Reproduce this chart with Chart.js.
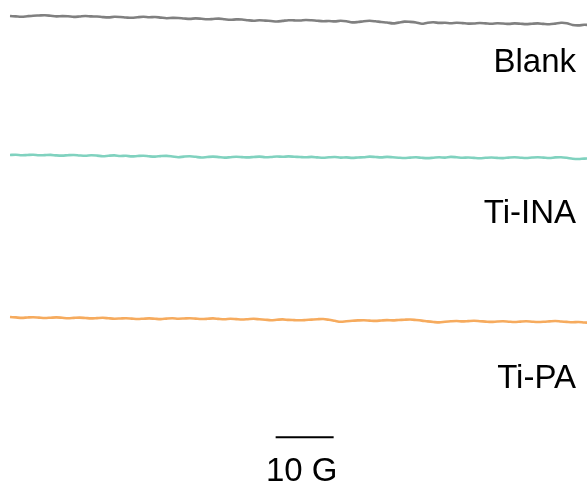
<!DOCTYPE html>
<html>
<head>
<meta charset="utf-8">
<script src="https://cdn.jsdelivr.net/npm/chart.js@4"></script>
<style>
  html, body { margin: 0; padding: 0; background: #fff; }
</style>
</head>
<body>
<canvas id="myChart" width="587" height="485"></canvas>
<script>
// magnetic field offset (G), one point per gauss
var field = [];
for (var g = 0; g <= 100; g++) field.push(g);

// signal (arbitrary units, up = positive)
var blank = [0, -0.4, -0.8, -0.2, 0.3, 0.5, 0.7, 0.2, -0.4, -0.1, -0.3,
  -0.9, -0.5, 0, -0.4, -0.5, -1.1, -1.4, -0.8, -1.0, -1.5,
  -1.8, -1.2, -0.8, -1.3, -1.0, -1.6, -2.2, -1.9, -2.0, -2.5,
  -2.9, -2.4, -2.8, -3.3, -3.0, -2.6, -3.2, -3.8, -3.4, -3.5,
  -4.2, -4.8, -4.3, -4.6, -5.0, -5.5, -4.9, -4.2, -4.4, -4.5,
  -4.0, -4.3, -4.8, -5.2, -5.0, -5.4, -4.8, -5.3, -6.4, -6.0,
  -5.2, -4.8, -5.3, -6.0, -6.5, -7.4, -6.6, -5.6, -5.9, -6.5,
  -7.8, -6.7, -6.3, -6.9, -6.8, -7.3, -6.8, -7.1, -7.6, -7.5,
  -7.0, -7.4, -7.8, -7.3, -7.5, -7.9, -7.4, -7.7, -8.1, -7.7,
  -7.4, -7.9, -8.2, -7.6, -6.8, -7.2, -9.0, -9.4, -8.8, -9.0];

var tiINA = [0, 0.3, -0.2, 0, 0.2, -0.3, -0.1, 0.1, -0.4, -0.6, -0.2,
  0, -0.5, -0.8, -0.3, -0.6, -1.2, -0.7, -0.4, -1.0, -0.8,
  -1.4, -1.0, -0.7, -1.3, -1.6, -1.1, -0.9, -1.5, -2.2, -1.6,
  -1.3, -1.8, -2.5, -2.0, -1.6, -2.1, -2.6, -2.2, -1.8, -2.1,
  -2.4, -2.0, -1.6, -2.2, -2.0, -1.5, -1.8, -1.4, -1.7, -2.0,
  -2.3, -1.9, -2.4, -2.8, -2.3, -2.0, -2.6, -2.4, -2.9, -2.5,
  -2.2, -1.6, -2.0, -2.4, -1.9, -2.3, -2.7, -3.0, -2.6, -2.3,
  -2.8, -3.1, -2.7, -2.3, -2.6, -1.9, -2.3, -2.8, -2.5, -2.9,
  -3.2, -2.8, -2.5, -2.9, -3.1, -2.6, -2.3, -2.7, -3.0, -2.5,
  -2.2, -2.6, -3.0, -2.4, -2.2, -2.8, -3.7, -4.0, -3.6, -3.5];

var tiPA = [0, -0.4, -0.9, -0.5, -0.2, -0.6, -1.0, -0.7, -0.4, -0.8, -1.2,
  -0.9, -0.6, -1.0, -1.4, -1.1, -0.8, -1.3, -1.7, -1.5, -1.2,
  -1.6, -2.0, -1.7, -1.4, -1.8, -2.1, -1.6, -1.3, -1.7, -1.5,
  -1.2, -1.6, -2.0, -1.8, -1.4, -1.9, -2.2, -1.7, -2.1, -2.5,
  -2.2, -1.8, -2.3, -2.7, -3.2, -2.8, -2.4, -2.9, -3.1, -3.3,
  -3.0, -2.6, -2.2, -2.0, -2.8, -3.8, -4.8, -4.2, -3.7, -3.4,
  -3.2, -3.6, -3.9, -3.5, -3.1, -3.4, -3.0, -2.7, -2.5, -3.0,
  -3.6, -4.4, -5.0, -5.4, -4.8, -4.3, -4.0, -4.4, -4.1, -3.8,
  -4.2, -4.6, -4.9, -4.5, -4.3, -4.7, -5.0, -4.6, -4.3, -4.7,
  -5.0, -4.8, -4.4, -4.0, -4.5, -4.9, -5.2, -5.0, -5.5, -5.8];

var names = ["Blank", "Ti-INA", "Ti-PA"];
var series = [blank, tiINA, tiPA];
var colors = ["#808080", "#80d2bf", "#f6ab5e"];
var scaleBarLabel = "10 G";

// vertical stacking of the traces (canvas-like units, top = 0)
var baselines = [16, 155, 317];
var labelRows = [72, 222.5, 388];

var dataset = [];
for (var i = 0; i < series.length; i++) {
  var buffer = [];
  for (var j = 0; j < field.length; j++) {
    buffer.push({ x: field[j], y: baselines[i] - series[i][j] });
  }
  dataset.push({
    label: names[i],
    data: buffer,
    borderColor: colors[i],
    borderWidth: 2.6,
    pointRadius: 0,
    tension: 0.3,
    fill: false
  });
}

// 10 G scale bar
dataset.push({
  label: scaleBarLabel,
  data: [{ x: 45.8, y: 437.3 }, { x: 55.8, y: 437.3 }],
  borderColor: "#000",
  borderWidth: 2,
  pointRadius: 0,
  fill: false
});

var labelPlugin = {
  id: "traceLabels",
  afterDraw: function(chart) {
    var c = chart.ctx;
    var xs = chart.scales.x, ys = chart.scales.y;
    c.save();
    c.fillStyle = "#000";
    c.font = "33px 'Liberation Sans', Arial, sans-serif";
    c.textBaseline = "alphabetic";
    c.textAlign = "right";
    for (var i = 0; i < names.length; i++) {
      c.fillText(names[i], 576, ys.getPixelForValue(labelRows[i]));
    }
    c.textAlign = "center";
    c.fillText(scaleBarLabel, xs.getPixelForValue(50.3), ys.getPixelForValue(481));
    c.restore();
  }
};

var ctx = document.getElementById("myChart");
var chart = new Chart(ctx, {
  type: "line",
  data: { datasets: dataset },
  options: {
    responsive: false,
    animation: false,
    layout: { padding: 0 },
    scales: {
      x: { type: "linear", min: -1.724, max: 99.48, display: false },
      y: { type: "linear", min: 0, max: 485, reverse: true, display: false }
    },
    plugins: {
      legend: { display: false },
      tooltip: { enabled: false }
    }
  },
  plugins: [labelPlugin]
});
</script>
</body>
</html>
